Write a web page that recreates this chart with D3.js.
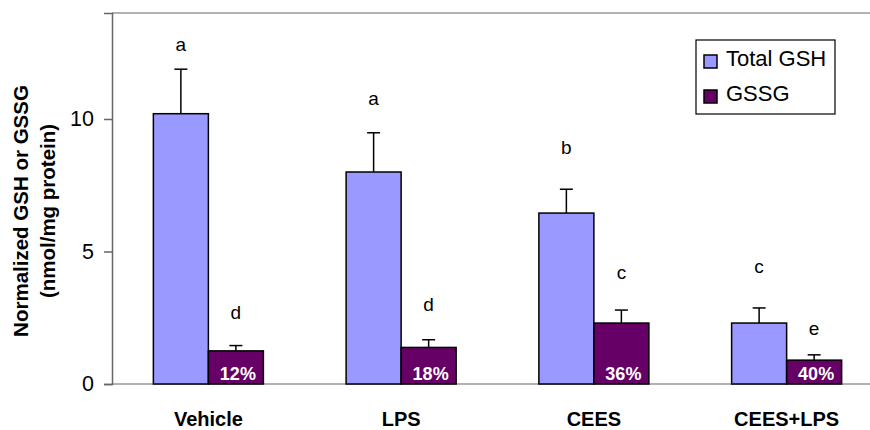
<!DOCTYPE html>
<html>
<head>
<meta charset="utf-8">
<script src="https://cdn.jsdelivr.net/npm/d3@7"></script>
<style>
  body { margin: 0; background: #fff; }
  text { font-family: Arial, "Liberation Sans", sans-serif; }
</style>
</head>
<body>
<div id="chart"></div>
<script>
// data
const groups = ["Vehicle", "LPS", "CEES", "CEES+LPS"];
const seriesNames = ["Total GSH", "GSSG"];
const totalGSH = [10.2, 8.0, 6.45, 2.3];
const totalErr = [1.68, 1.48, 0.9, 0.57];
const gssg = [1.25, 1.38, 2.3, 0.9];
const gssgErr = [0.2, 0.29, 0.49, 0.2];
const pctLabels = ["12%", "18%", "36%", "40%"];
const totalLetters = ["a", "a", "b", "c"];
const gssgLetters = ["d", "d", "c", "e"];
// where the letters sit, in y units
const totalLetterAt = [12.57, 10.53, 8.68, 4.19];
const gssgLetterAt = [2.45, 2.75, 3.96, 1.85];
const yTicks = [0, 5, 10];

const svgWidth = 870;
const svgHeight = 430;
const colors = { "Total GSH": "#9999ff", "GSSG": "#660066" };

const svg = d3.select("#chart")
  .append("svg")
  .attr("width", svgWidth)
  .attr("height", svgHeight);

const x0 = d3.scaleBand()
  .domain(groups)
  .range([112, 883])
  .padding(0);

const x1 = d3.scaleBand()
  .domain(seriesNames)
  .range([0, x0.bandwidth()])
  .paddingInner(0)
  .paddingOuter(0.752);

const y = d3.scaleLinear()
  .domain([0, 14])
  .range([384, 13]);

// frame lines
svg.append("line")
  .attr("x1", 112).attr("x2", svgWidth)
  .attr("y1", y(14)).attr("y2", y(14))
  .attr("stroke", "#999").attr("stroke-width", 1.5);

svg.append("line")
  .attr("x1", 112).attr("x2", svgWidth)
  .attr("y1", y(0)).attr("y2", y(0))
  .attr("stroke", "#999").attr("stroke-width", 1.5);

// y axis
const yAxis = svg.append("g")
  .attr("transform", "translate(112,0)")
  .call(d3.axisLeft(y).tickValues(yTicks).tickSize(8).tickPadding(10).tickFormat(d3.format("d")));

yAxis.select(".domain").attr("stroke", "#666").attr("stroke-width", 1.5);
yAxis.selectAll(".tick line").attr("stroke", "#666").attr("stroke-width", 1.5);
yAxis.selectAll(".tick text")
  .attr("font-size", 21.5)
  .attr("fill", "#000")
  .style("font-family", "Arial, 'Liberation Sans', sans-serif");

// y title
const yTitle = svg.append("g")
  .attr("transform", "translate(0,211) rotate(-90)")
  .attr("text-anchor", "middle")
  .attr("font-weight", "bold")
  .attr("font-size", 20.5);

yTitle.append("text").attr("x", 0).attr("y", 28).text("Normalized GSH or GSSG");
yTitle.append("text").attr("x", 0).attr("y", 55).text("(nmol/mg protein)");

const rows = groups.map((g, i) => ({
  group: g,
  i: i,
  bars: [
    { name: "Total GSH", value: totalGSH[i], err: totalErr[i], letter: totalLetters[i], letterAt: totalLetterAt[i] },
    { name: "GSSG", value: gssg[i], err: gssgErr[i], letter: gssgLetters[i], letterAt: gssgLetterAt[i] }
  ]
}));

const groupG = svg.selectAll(".grp")
  .data(rows)
  .enter()
  .append("g")
  .attr("class", "grp")
  .attr("transform", d => `translate(${x0(d.group)},0)`);

const barG = groupG.selectAll(".bar")
  .data(d => d.bars)
  .enter()
  .append("g")
  .attr("class", "bar");

// error bars (upper only)
barG.append("line")
  .attr("x1", d => x1(d.name) + x1.bandwidth() / 2)
  .attr("x2", d => x1(d.name) + x1.bandwidth() / 2)
  .attr("y1", d => y(d.value))
  .attr("y2", d => y(d.value + d.err))
  .attr("stroke", "#000").attr("stroke-width", 1.5);

barG.append("line")
  .attr("x1", d => x1(d.name) + x1.bandwidth() / 2 - 6.5)
  .attr("x2", d => x1(d.name) + x1.bandwidth() / 2 + 6.5)
  .attr("y1", d => y(d.value + d.err))
  .attr("y2", d => y(d.value + d.err))
  .attr("stroke", "#000").attr("stroke-width", 1.5);

barG.append("rect")
  .attr("x", d => x1(d.name))
  .attr("y", d => y(d.value))
  .attr("width", x1.bandwidth())
  .attr("height", d => y(0) - y(d.value))
  .attr("fill", d => colors[d.name])
  .attr("stroke", "#000")
  .attr("stroke-width", 1.5);

// significance letters
barG.append("text")
  .attr("x", d => x1(d.name) + x1.bandwidth() / 2)
  .attr("y", d => y(d.letterAt))
  .attr("text-anchor", "middle")
  .attr("font-size", 19)
  .text(d => d.letter);

// percent labels inside GSSG bars
groupG.append("text")
  .attr("x", x1("GSSG") + x1.bandwidth() / 2 + 2)
  .attr("y", y(0) - 4)
  .attr("text-anchor", "middle")
  .attr("font-size", 18)
  .attr("font-weight", "bold")
  .attr("fill", "#fff")
  .text(d => pctLabels[d.i]);

// category labels
groupG.append("text")
  .attr("x", x0.bandwidth() / 2)
  .attr("y", 426)
  .attr("text-anchor", "middle")
  .attr("font-size", 20)
  .attr("font-weight", "bold")
  .text(d => d.group);

// legend
const legend = svg.append("g").attr("transform", "translate(696,40)");
legend.append("rect")
  .attr("width", 139).attr("height", 74)
  .attr("fill", "#fff").attr("stroke", "#000").attr("stroke-width", 1.2);

const legItem = legend.selectAll(".leg")
  .data(seriesNames)
  .enter()
  .append("g")
  .attr("transform", (d, i) => `translate(8,${15 + i * 35})`);

legItem.append("rect")
  .attr("width", 13).attr("height", 13)
  .attr("fill", d => colors[d])
  .attr("stroke", "#000").attr("stroke-width", 1.5);

legItem.append("text")
  .attr("x", 22).attr("y", 11)
  .attr("font-size", 22)
  .text(d => d);
</script>
</body>
</html>
